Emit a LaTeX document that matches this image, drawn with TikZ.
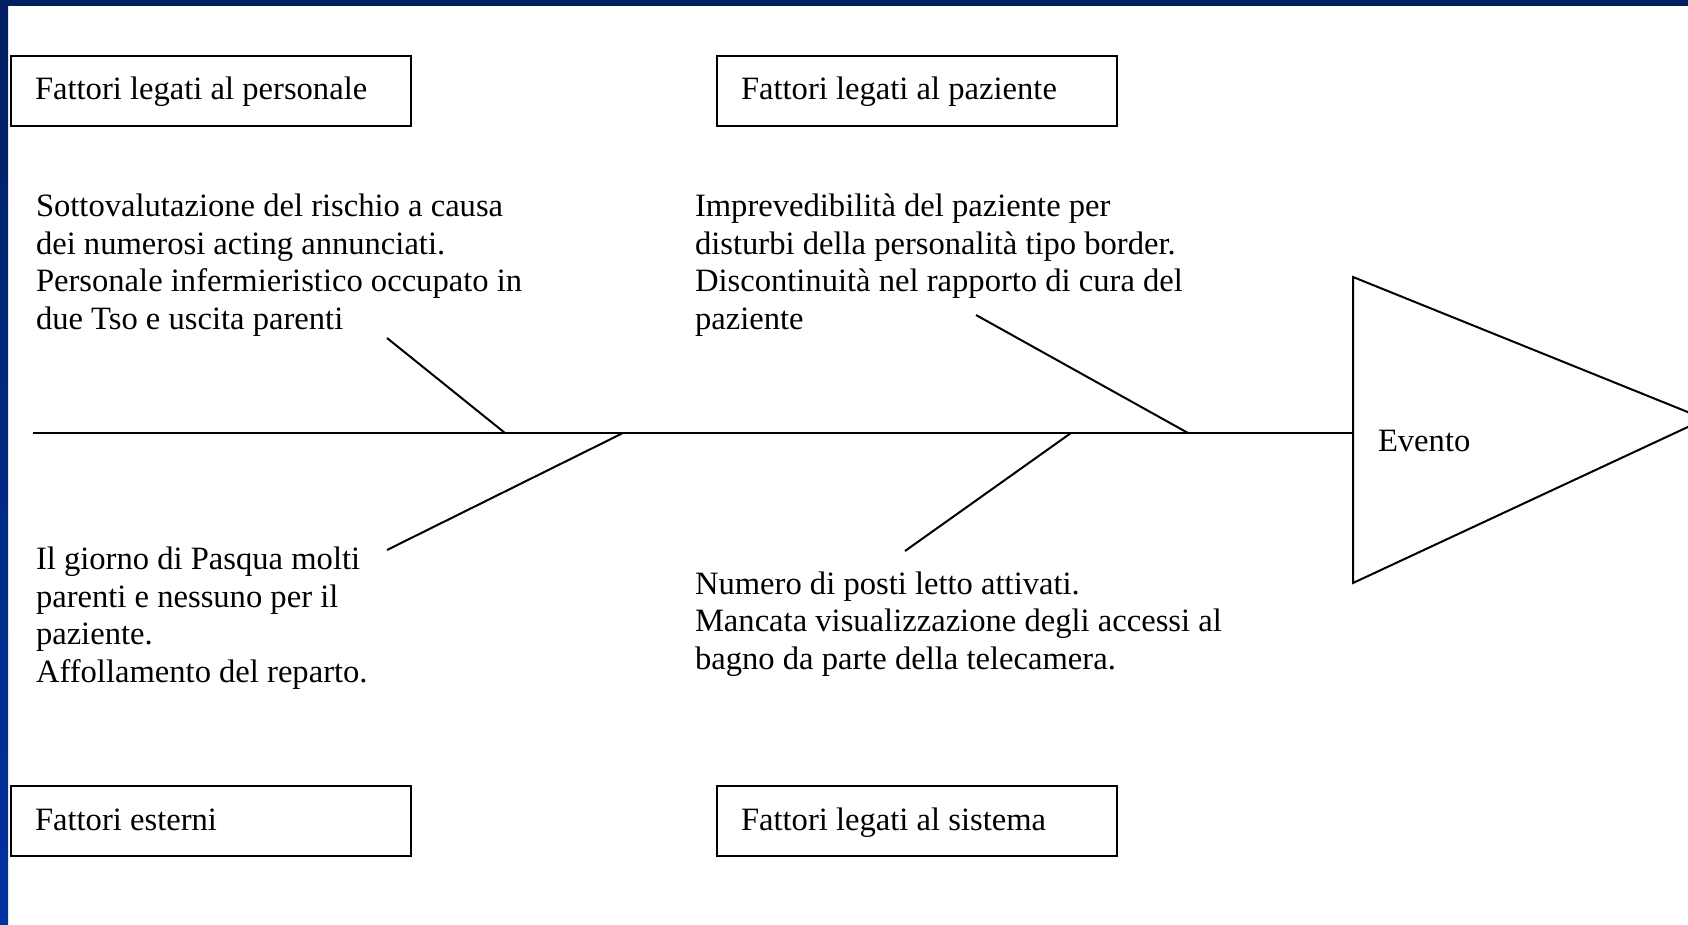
\documentclass[tikz,border=0pt]{standalone}
\usepackage{fontspec}
\setmainfont{Liberation Serif}
\definecolor{navy}{HTML}{002060}
\definecolor{royal}{HTML}{0033A0}

\begin{document}
\begin{tikzpicture}[x=1pt, y=-1pt, line width=2pt,
  cat node/.style={draw, rectangle, minimum width=400pt, minimum height=70pt, inner xsep=24pt,
    text width=352pt, align=flush left, text height=25pt, text depth=7pt,
    font=\fontsize{32.6}{37.5}\selectfont},
  cause node/.style={anchor=base west, inner sep=0pt, align=left,
    font=\fontsize{32.6}{37.5}\selectfont}]

          \useasboundingbox (0,0) rectangle (1688,925);
          \shade[top color=navy, bottom color=royal] (0,0) rectangle (8,925);
          \fill[navy] (0,0) rectangle (1688,6);

          \node[cat node] (pers) at (211,91) {Fattori legati al personale};
          \node[cat node] (paz) at (917,91) {Fattori legati al paziente};
          \node[cat node] (est) at (211,821) {Fattori esterni};
          \node[cat node] (sis) at (917,821) {Fattori legati al sistema};

          % causes (placed at the baseline of their last line)
          \node[cause node] (c1) at (35,329) {Sottovalutazione del rischio a causa\\dei numerosi acting annunciati.\\Personale infermieristico occupato in\\due Tso e uscita parenti};
          \node[cause node] (c2) at (694,329) {Imprevedibilità del paziente per\\disturbi della personalità tipo border.\\Discontinuità nel rapporto di cura del\\paziente};
          \node[cause node] (c3) at (35,682) {Il giorno di Pasqua molti\\parenti e nessuno per il\\paziente.\\Affollamento del reparto.};
          \node[cause node] (c4) at (694,669) {Numero di posti letto attivati.\\Mancata visualizzazione degli accessi al\\bagno da parte della telecamera.};

          \coordinate (tail) at (33,433);
          \coordinate (head) at (1353,433);
          \coordinate (top) at (1353,277);
          \coordinate (tip) at (1705,419);
          \coordinate (bot) at (1353,583);
          \node[cause node] (evento) at (1377,451) {Evento};

          \coordinate (s1) at (387,338);
          \coordinate (j1) at (505,433);
          \coordinate (s2) at (976,315);
          \coordinate (j2) at (1188,433);
          \coordinate (s3) at (387,550);
          \coordinate (j3) at (623,433);
          \coordinate (s4) at (905,551);
          \coordinate (j4) at (1071,433);

          \draw (tail) -- (head);
          \draw (top) -- (tip) -- (bot) -- cycle;

          \draw (s1) -- (j1);
          \draw (s2) -- (j2);
          \draw (s3) -- (j3);
          \draw (s4) -- (j4);
        \end{tikzpicture}
\end{document}
